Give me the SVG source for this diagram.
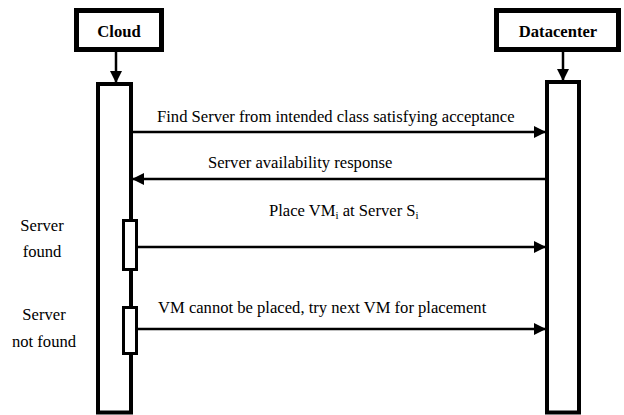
<svg xmlns="http://www.w3.org/2000/svg" width="624" height="415" viewBox="0 0 624 415">
<defs>
<marker id="ah" markerWidth="12" markerHeight="12" viewBox="0 0 12 12" refX="11" refY="6" orient="auto" markerUnits="userSpaceOnUse">
<path d="M0,0 L12,6 L0,12 Z" fill="#000"/>
</marker>
<style>
.box{fill:#fff;stroke:#000;stroke-width:5}
.bar{fill:#fff;stroke:#000;stroke-width:4}
.act{fill:#fff;stroke:#000;stroke-width:3}
.ln{stroke:#000;stroke-width:2.5;fill:none}
.t{font-family:"Liberation Serif","Times New Roman",serif;font-size:16.6px;fill:#000}
.b{font-weight:bold}
.sub{font-size:11px}
</style>
</defs>
<rect width="624" height="415" fill="#fff"/>
<g id="cloud">
<rect class="box" x="76.5" y="10.5" width="85" height="39"/>
<text class="t b" x="119" y="37" text-anchor="middle">Cloud</text>
</g>
<g id="datacenter">
<rect class="box" x="496.5" y="10.5" width="122" height="39"/>
<text class="t b" x="558" y="37" text-anchor="middle">Datacenter</text>
</g>
<g id="cloud-lifeline">
<rect class="bar" x="98" y="84" width="33" height="328.5"/>
</g>
<g id="datacenter-lifeline">
<rect class="bar" x="547" y="82" width="32" height="330.5"/>
</g>
<g id="act-found">
<rect class="act" x="123.5" y="220.5" width="13" height="49"/>
</g>
<g id="act-notfound">
<rect class="act" x="123.5" y="307.5" width="13" height="46"/>
</g>
<g id="labels">
<text class="t" x="42" y="231" text-anchor="middle">Server</text>
<text class="t" x="42" y="257" text-anchor="middle">found</text>
<text class="t" x="44" y="320" text-anchor="middle">Server</text>
<text class="t" x="44" y="347" text-anchor="middle">not found</text>
</g>
<g id="connectors">
<line class="ln" x1="116" y1="52" x2="116" y2="82" marker-end="url(#ah)"/>
<line class="ln" x1="563" y1="52" x2="563" y2="80" marker-end="url(#ah)"/>
<line class="ln" x1="131" y1="132" x2="545" y2="132" marker-end="url(#ah)"/>
<text class="t" x="157" y="122">Find Server from intended class satisfying acceptance</text>
<line class="ln" x1="545" y1="179" x2="133" y2="179" marker-end="url(#ah)"/>
<text class="t" x="208" y="168">Server availability response</text>
<line class="ln" x1="137" y1="247" x2="545" y2="247" marker-end="url(#ah)"/>
<text class="t" x="269" y="216">Place VM<tspan class="sub" dy="3">i</tspan><tspan dy="-3"> at Server S</tspan><tspan class="sub" dy="3">i</tspan></text>
<line class="ln" x1="137" y1="329" x2="545" y2="329" marker-end="url(#ah)"/>
<text class="t" x="158" y="313">VM cannot be placed, try next VM for placement</text>
</g>
</svg>
